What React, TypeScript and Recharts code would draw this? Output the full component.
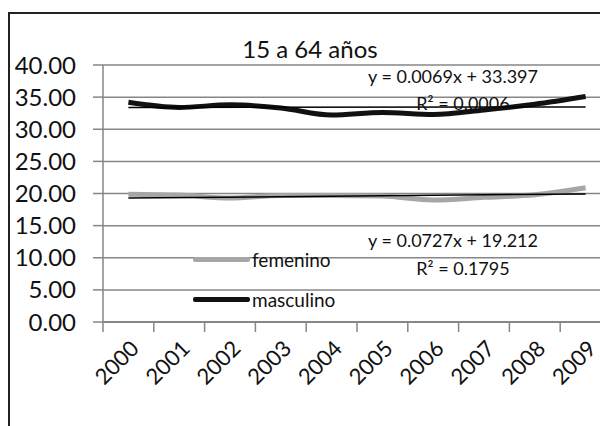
import { CartesianGrid, Line, LineChart, ReferenceLine, XAxis, YAxis } from "recharts";

const years = ["2000", "2001", "2002", "2003", "2004", "2005", "2006", "2007", "2008", "2009"];
const femenino = [19.9, 19.75, 19.3, 19.7, 19.7, 19.6, 19.0, 19.4, 19.8, 20.9];
const masculino = [34.2, 33.4, 33.8, 33.3, 32.2, 32.6, 32.3, 33.0, 33.9, 35.1];
const yTicks = [0, 5, 10, 15, 20, 25, 30, 35, 40];

// trendline ends, read from the equations shown (x = 1 and x = 10)
const femTrend = [19.285, 19.939];
const mascTrend = [33.404, 33.466];
const femLabels = ["y = 0.0727x + 19.212", "R² = 0.1795"];
const mascLabels = ["y = 0.0069x + 33.397", "R² = 0.0006"];

const data = years.map((year, i) => ({
  year,
  femenino: femenino[i],
  masculino: masculino[i],
}));

const FONT = "Lato, 'Open Sans', sans-serif";
const AXIS = "#868686";
const HALF_BAND = 25.4;

function YearTick(props: any) {
  const { x, y, payload, index } = props;
  const tx = x + 12;
  const ty = y + 28;
  return (
    <g>
      <line x1={x - HALF_BAND} y1={y} x2={x - HALF_BAND} y2={y + 10} stroke={AXIS} strokeWidth={1.5} />
      {index === years.length - 1 && (
        <line x1={x + HALF_BAND} y1={y} x2={x + HALF_BAND} y2={y + 10} stroke={AXIS} strokeWidth={1.5} />
      )}
      <text
        x={tx}
        y={ty}
        transform={`rotate(-45 ${tx} ${ty})`}
        textAnchor="end"
        fontSize={22}
        fontFamily={FONT}
        fill="#111"
      >
        {payload.value}
      </text>
    </g>
  );
}

function LegendBox() {
  const rows = [
    { name: "femenino", color: "#a6a6a6" },
    { name: "masculino", color: "#111" },
  ];
  return (
    <div
      style={{
        position: "absolute",
        left: 185,
        top: 231,
        fontFamily: FONT,
        fontSize: 19,
        color: "#111",
      }}
    >
      {rows.map((r) => (
        <div key={r.name} style={{ display: "flex", alignItems: "center", height: 40 }}>
          <span style={{ display: "inline-block", width: 57, height: 5, background: r.color, borderRadius: 2 }} />
          <span style={{ marginLeft: 2 }}>{r.name}</span>
        </div>
      ))}
    </div>
  );
}

const eqStyle: React.CSSProperties = {
  position: "absolute",
  fontFamily: FONT,
  fontSize: 18,
  color: "#111",
  transform: "translate(-50%, -50%)",
  whiteSpace: "nowrap",
  lineHeight: 1,
};

export default function App() {
  return (
    <div style={{ position: "relative", width: 600, height: 418, overflow: "hidden", background: "#fff" }}>
      <div
        style={{
          position: "absolute",
          left: 0,
          top: 4,
          width: 700,
          height: 500,
          borderLeft: "2.5px solid #222",
          borderTop: "2.5px solid #222",
        }}
      />
      <div
        style={{
          position: "absolute",
          left: 302,
          top: 40,
          transform: "translate(-50%, -50%)",
          fontFamily: FONT,
          fontSize: 24,
          color: "#111",
          whiteSpace: "nowrap",
        }}
      >
        15 a 64 años
      </div>
      <LineChart
        width={620}
        height={418}
        data={data}
        margin={{ top: 57, right: 17, bottom: 0, left: 0 }}
        style={{ position: "absolute", left: 0, top: 0 }}
      >
        <CartesianGrid vertical={false} stroke={AXIS} strokeWidth={1.5} />
        <XAxis
          dataKey="year"
          height={104}
          padding={{ left: HALF_BAND, right: HALF_BAND }}
          tickLine={false}
          tickSize={0}
          tickMargin={0}
          interval={0}
          axisLine={{ stroke: AXIS, strokeWidth: 2 }}
          tick={<YearTick />}
        />
        <YAxis
          width={95}
          domain={[0, 40]}
          ticks={yTicks}
          interval={0}
          tickSize={10}
          tickMargin={17}
          tickFormatter={(v: number) => v.toFixed(2)}
          axisLine={{ stroke: AXIS, strokeWidth: 1.5 }}
          tickLine={{ stroke: AXIS, strokeWidth: 1.5 }}
          tick={{ fontSize: 24, fontFamily: FONT, fill: "#111" }}
        />
        <Line
          type="monotone"
          dataKey="femenino"
          name="femenino"
          stroke="#a6a6a6"
          strokeWidth={5}
          dot={false}
          isAnimationActive={false}
        />
        <Line
          type="monotone"
          dataKey="masculino"
          name="masculino"
          stroke="#111"
          strokeWidth={5}
          dot={false}
          isAnimationActive={false}
        />
        <ReferenceLine
          segment={[
            { x: years[0], y: femTrend[0] },
            { x: years[years.length - 1], y: femTrend[1] },
          ]}
          stroke="#000"
          strokeWidth={1.5}
        />
        <ReferenceLine
          segment={[
            { x: years[0], y: mascTrend[0] },
            { x: years[years.length - 1], y: mascTrend[1] },
          ]}
          stroke="#000"
          strokeWidth={1.5}
        />
      </LineChart>
      <LegendBox />
      <div style={{ ...eqStyle, left: 445, top: 68 }}>{mascLabels[0]}</div>
      <div style={{ ...eqStyle, left: 455, top: 95 }}>{mascLabels[1]}</div>
      <div style={{ ...eqStyle, left: 445, top: 232 }}>{femLabels[0]}</div>
      <div style={{ ...eqStyle, left: 455, top: 260 }}>{femLabels[1]}</div>
    </div>
  );
}
